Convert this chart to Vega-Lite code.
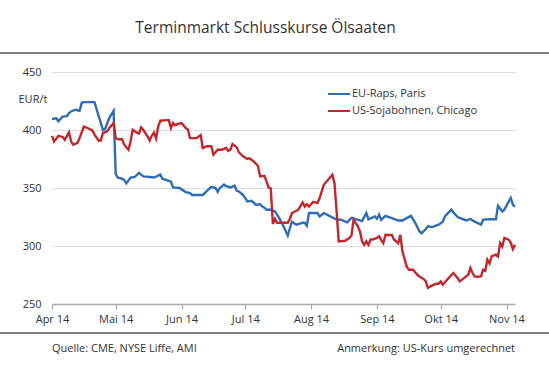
{
  "$schema": "https://vega.github.io/schema/vega-lite/v6.json",
  "width": 463,
  "height": 232,
  "autosize": "none",
  "padding": {"left": 52, "top": 72, "right": 34, "bottom": 72},
  "background": "white",
  "title": {"text": "Terminmarkt Schlusskurse Ölsaaten", "anchor": "middle", "dx": -18, "dy": 13, "offset": 29, "fontSize": 15.5, "font": "Open Sans", "fontWeight": "normal", "color": "#333333"},
  "config": {
    "view": {"stroke": null},
    "font": "Open Sans",
    "axis": {"labelFont": "Open Sans", "labelFontSize": 11, "labelColor": "#333333", "titleFont": "Open Sans"},
    "legend": {"labelFont": "Open Sans"}
  },
  "datasets": {
    "kurse": [
      {"Datum": "2014-04-01", "Serie": "EU-Raps, Paris", "Preis": 409.5},
      {"Datum": "2014-04-03", "Serie": "EU-Raps, Paris", "Preis": 410},
      {"Datum": "2014-04-04", "Serie": "EU-Raps, Paris", "Preis": 407.5},
      {"Datum": "2014-04-06", "Serie": "EU-Raps, Paris", "Preis": 411.5},
      {"Datum": "2014-04-08", "Serie": "EU-Raps, Paris", "Preis": 412},
      {"Datum": "2014-04-09", "Serie": "EU-Raps, Paris", "Preis": 414.5},
      {"Datum": "2014-04-10", "Serie": "EU-Raps, Paris", "Preis": 416},
      {"Datum": "2014-04-12", "Serie": "EU-Raps, Paris", "Preis": 417.5},
      {"Datum": "2014-04-13", "Serie": "EU-Raps, Paris", "Preis": 417},
      {"Datum": "2014-04-14", "Serie": "EU-Raps, Paris", "Preis": 416.5},
      {"Datum": "2014-04-15", "Serie": "EU-Raps, Paris", "Preis": 423.5},
      {"Datum": "2014-04-16", "Serie": "EU-Raps, Paris", "Preis": 424},
      {"Datum": "2014-04-21", "Serie": "EU-Raps, Paris", "Preis": 424},
      {"Datum": "2014-04-25", "Serie": "EU-Raps, Paris", "Preis": 400},
      {"Datum": "2014-04-26", "Serie": "EU-Raps, Paris", "Preis": 401},
      {"Datum": "2014-04-28", "Serie": "EU-Raps, Paris", "Preis": 410.5},
      {"Datum": "2014-04-30", "Serie": "EU-Raps, Paris", "Preis": 416.5},
      {"Datum": "2014-05-01", "Serie": "EU-Raps, Paris", "Preis": 362},
      {"Datum": "2014-05-02", "Serie": "EU-Raps, Paris", "Preis": 359},
      {"Datum": "2014-05-04", "Serie": "EU-Raps, Paris", "Preis": 358},
      {"Datum": "2014-05-05", "Serie": "EU-Raps, Paris", "Preis": 357},
      {"Datum": "2014-05-06", "Serie": "EU-Raps, Paris", "Preis": 354},
      {"Datum": "2014-05-08", "Serie": "EU-Raps, Paris", "Preis": 359},
      {"Datum": "2014-05-10", "Serie": "EU-Raps, Paris", "Preis": 359.5},
      {"Datum": "2014-05-12", "Serie": "EU-Raps, Paris", "Preis": 363},
      {"Datum": "2014-05-14", "Serie": "EU-Raps, Paris", "Preis": 360},
      {"Datum": "2014-05-17", "Serie": "EU-Raps, Paris", "Preis": 359.5},
      {"Datum": "2014-05-19", "Serie": "EU-Raps, Paris", "Preis": 359},
      {"Datum": "2014-05-22", "Serie": "EU-Raps, Paris", "Preis": 361.5},
      {"Datum": "2014-05-23", "Serie": "EU-Raps, Paris", "Preis": 358},
      {"Datum": "2014-05-27", "Serie": "EU-Raps, Paris", "Preis": 355.5},
      {"Datum": "2014-05-28", "Serie": "EU-Raps, Paris", "Preis": 350.5},
      {"Datum": "2014-05-31", "Serie": "EU-Raps, Paris", "Preis": 350},
      {"Datum": "2014-06-03", "Serie": "EU-Raps, Paris", "Preis": 346.5},
      {"Datum": "2014-06-05", "Serie": "EU-Raps, Paris", "Preis": 345.6},
      {"Datum": "2014-06-06", "Serie": "EU-Raps, Paris", "Preis": 344},
      {"Datum": "2014-06-11", "Serie": "EU-Raps, Paris", "Preis": 344},
      {"Datum": "2014-06-13", "Serie": "EU-Raps, Paris", "Preis": 347.6},
      {"Datum": "2014-06-15", "Serie": "EU-Raps, Paris", "Preis": 351},
      {"Datum": "2014-06-17", "Serie": "EU-Raps, Paris", "Preis": 350},
      {"Datum": "2014-06-18", "Serie": "EU-Raps, Paris", "Preis": 346.8},
      {"Datum": "2014-06-19", "Serie": "EU-Raps, Paris", "Preis": 350},
      {"Datum": "2014-06-21", "Serie": "EU-Raps, Paris", "Preis": 353},
      {"Datum": "2014-06-22", "Serie": "EU-Raps, Paris", "Preis": 351.5},
      {"Datum": "2014-06-24", "Serie": "EU-Raps, Paris", "Preis": 350.5},
      {"Datum": "2014-06-26", "Serie": "EU-Raps, Paris", "Preis": 352},
      {"Datum": "2014-06-27", "Serie": "EU-Raps, Paris", "Preis": 347.6},
      {"Datum": "2014-06-28", "Serie": "EU-Raps, Paris", "Preis": 347},
      {"Datum": "2014-06-30", "Serie": "EU-Raps, Paris", "Preis": 344},
      {"Datum": "2014-07-02", "Serie": "EU-Raps, Paris", "Preis": 338.5},
      {"Datum": "2014-07-04", "Serie": "EU-Raps, Paris", "Preis": 339},
      {"Datum": "2014-07-06", "Serie": "EU-Raps, Paris", "Preis": 335.6},
      {"Datum": "2014-07-08", "Serie": "EU-Raps, Paris", "Preis": 336},
      {"Datum": "2014-07-09", "Serie": "EU-Raps, Paris", "Preis": 334},
      {"Datum": "2014-07-10", "Serie": "EU-Raps, Paris", "Preis": 333},
      {"Datum": "2014-07-11", "Serie": "EU-Raps, Paris", "Preis": 331.3},
      {"Datum": "2014-07-13", "Serie": "EU-Raps, Paris", "Preis": 331.3},
      {"Datum": "2014-07-15", "Serie": "EU-Raps, Paris", "Preis": 329.8},
      {"Datum": "2014-07-17", "Serie": "EU-Raps, Paris", "Preis": 324},
      {"Datum": "2014-07-19", "Serie": "EU-Raps, Paris", "Preis": 317},
      {"Datum": "2014-07-21", "Serie": "EU-Raps, Paris", "Preis": 309},
      {"Datum": "2014-07-22", "Serie": "EU-Raps, Paris", "Preis": 315.5},
      {"Datum": "2014-07-23", "Serie": "EU-Raps, Paris", "Preis": 321},
      {"Datum": "2014-07-25", "Serie": "EU-Raps, Paris", "Preis": 318.4},
      {"Datum": "2014-07-28", "Serie": "EU-Raps, Paris", "Preis": 320},
      {"Datum": "2014-07-29", "Serie": "EU-Raps, Paris", "Preis": 320},
      {"Datum": "2014-07-30", "Serie": "EU-Raps, Paris", "Preis": 317.5},
      {"Datum": "2014-07-31", "Serie": "EU-Raps, Paris", "Preis": 328.4},
      {"Datum": "2014-08-02", "Serie": "EU-Raps, Paris", "Preis": 328.4},
      {"Datum": "2014-08-04", "Serie": "EU-Raps, Paris", "Preis": 328.4},
      {"Datum": "2014-08-05", "Serie": "EU-Raps, Paris", "Preis": 325.5},
      {"Datum": "2014-08-07", "Serie": "EU-Raps, Paris", "Preis": 328.4},
      {"Datum": "2014-08-10", "Serie": "EU-Raps, Paris", "Preis": 325.5},
      {"Datum": "2014-08-13", "Serie": "EU-Raps, Paris", "Preis": 322.7},
      {"Datum": "2014-08-15", "Serie": "EU-Raps, Paris", "Preis": 322.7},
      {"Datum": "2014-08-18", "Serie": "EU-Raps, Paris", "Preis": 320.4},
      {"Datum": "2014-08-20", "Serie": "EU-Raps, Paris", "Preis": 324.2},
      {"Datum": "2014-08-25", "Serie": "EU-Raps, Paris", "Preis": 321.4},
      {"Datum": "2014-08-27", "Serie": "EU-Raps, Paris", "Preis": 328.4},
      {"Datum": "2014-08-28", "Serie": "EU-Raps, Paris", "Preis": 323},
      {"Datum": "2014-08-31", "Serie": "EU-Raps, Paris", "Preis": 325.5},
      {"Datum": "2014-09-01", "Serie": "EU-Raps, Paris", "Preis": 323.5},
      {"Datum": "2014-09-02", "Serie": "EU-Raps, Paris", "Preis": 327},
      {"Datum": "2014-09-03", "Serie": "EU-Raps, Paris", "Preis": 322.5},
      {"Datum": "2014-09-05", "Serie": "EU-Raps, Paris", "Preis": 326},
      {"Datum": "2014-09-08", "Serie": "EU-Raps, Paris", "Preis": 324},
      {"Datum": "2014-09-11", "Serie": "EU-Raps, Paris", "Preis": 322},
      {"Datum": "2014-09-13", "Serie": "EU-Raps, Paris", "Preis": 322},
      {"Datum": "2014-09-15", "Serie": "EU-Raps, Paris", "Preis": 324},
      {"Datum": "2014-09-17", "Serie": "EU-Raps, Paris", "Preis": 326},
      {"Datum": "2014-09-19", "Serie": "EU-Raps, Paris", "Preis": 320},
      {"Datum": "2014-09-21", "Serie": "EU-Raps, Paris", "Preis": 312.6},
      {"Datum": "2014-09-22", "Serie": "EU-Raps, Paris", "Preis": 311},
      {"Datum": "2014-09-24", "Serie": "EU-Raps, Paris", "Preis": 314.6},
      {"Datum": "2014-09-25", "Serie": "EU-Raps, Paris", "Preis": 317},
      {"Datum": "2014-09-27", "Serie": "EU-Raps, Paris", "Preis": 316.3},
      {"Datum": "2014-09-30", "Serie": "EU-Raps, Paris", "Preis": 318.4},
      {"Datum": "2014-10-02", "Serie": "EU-Raps, Paris", "Preis": 321},
      {"Datum": "2014-10-03", "Serie": "EU-Raps, Paris", "Preis": 325.5},
      {"Datum": "2014-10-06", "Serie": "EU-Raps, Paris", "Preis": 331.3},
      {"Datum": "2014-10-07", "Serie": "EU-Raps, Paris", "Preis": 329},
      {"Datum": "2014-10-09", "Serie": "EU-Raps, Paris", "Preis": 325},
      {"Datum": "2014-10-13", "Serie": "EU-Raps, Paris", "Preis": 322},
      {"Datum": "2014-10-15", "Serie": "EU-Raps, Paris", "Preis": 323.3},
      {"Datum": "2014-10-17", "Serie": "EU-Raps, Paris", "Preis": 321},
      {"Datum": "2014-10-20", "Serie": "EU-Raps, Paris", "Preis": 318.4},
      {"Datum": "2014-10-21", "Serie": "EU-Raps, Paris", "Preis": 322.7},
      {"Datum": "2014-10-24", "Serie": "EU-Raps, Paris", "Preis": 323},
      {"Datum": "2014-10-27", "Serie": "EU-Raps, Paris", "Preis": 323},
      {"Datum": "2014-10-28", "Serie": "EU-Raps, Paris", "Preis": 334.7},
      {"Datum": "2014-10-30", "Serie": "EU-Raps, Paris", "Preis": 329.8},
      {"Datum": "2014-10-31", "Serie": "EU-Raps, Paris", "Preis": 331.3},
      {"Datum": "2014-11-03", "Serie": "EU-Raps, Paris", "Preis": 341.4},
      {"Datum": "2014-11-04", "Serie": "EU-Raps, Paris", "Preis": 335.6},
      {"Datum": "2014-11-05", "Serie": "EU-Raps, Paris", "Preis": 334},

      {"Datum": "2014-04-01", "Serie": "US-Sojabohnen, Chicago", "Preis": 395},
      {"Datum": "2014-04-02", "Serie": "US-Sojabohnen, Chicago", "Preis": 390},
      {"Datum": "2014-04-04", "Serie": "US-Sojabohnen, Chicago", "Preis": 395},
      {"Datum": "2014-04-06", "Serie": "US-Sojabohnen, Chicago", "Preis": 394},
      {"Datum": "2014-04-07", "Serie": "US-Sojabohnen, Chicago", "Preis": 391.6},
      {"Datum": "2014-04-09", "Serie": "US-Sojabohnen, Chicago", "Preis": 398},
      {"Datum": "2014-04-10", "Serie": "US-Sojabohnen, Chicago", "Preis": 390},
      {"Datum": "2014-04-11", "Serie": "US-Sojabohnen, Chicago", "Preis": 387.3},
      {"Datum": "2014-04-13", "Serie": "US-Sojabohnen, Chicago", "Preis": 389},
      {"Datum": "2014-04-14", "Serie": "US-Sojabohnen, Chicago", "Preis": 393},
      {"Datum": "2014-04-16", "Serie": "US-Sojabohnen, Chicago", "Preis": 403},
      {"Datum": "2014-04-18", "Serie": "US-Sojabohnen, Chicago", "Preis": 401.5},
      {"Datum": "2014-04-20", "Serie": "US-Sojabohnen, Chicago", "Preis": 399.7},
      {"Datum": "2014-04-21", "Serie": "US-Sojabohnen, Chicago", "Preis": 396},
      {"Datum": "2014-04-23", "Serie": "US-Sojabohnen, Chicago", "Preis": 390.7},
      {"Datum": "2014-04-24", "Serie": "US-Sojabohnen, Chicago", "Preis": 391},
      {"Datum": "2014-04-25", "Serie": "US-Sojabohnen, Chicago", "Preis": 397.4},
      {"Datum": "2014-04-27", "Serie": "US-Sojabohnen, Chicago", "Preis": 398.8},
      {"Datum": "2014-04-28", "Serie": "US-Sojabohnen, Chicago", "Preis": 401.7},
      {"Datum": "2014-04-30", "Serie": "US-Sojabohnen, Chicago", "Preis": 406},
      {"Datum": "2014-05-01", "Serie": "US-Sojabohnen, Chicago", "Preis": 393},
      {"Datum": "2014-05-02", "Serie": "US-Sojabohnen, Chicago", "Preis": 392},
      {"Datum": "2014-05-04", "Serie": "US-Sojabohnen, Chicago", "Preis": 392},
      {"Datum": "2014-05-05", "Serie": "US-Sojabohnen, Chicago", "Preis": 387.3},
      {"Datum": "2014-05-07", "Serie": "US-Sojabohnen, Chicago", "Preis": 383},
      {"Datum": "2014-05-08", "Serie": "US-Sojabohnen, Chicago", "Preis": 390},
      {"Datum": "2014-05-09", "Serie": "US-Sojabohnen, Chicago", "Preis": 400.2},
      {"Datum": "2014-05-11", "Serie": "US-Sojabohnen, Chicago", "Preis": 397.7},
      {"Datum": "2014-05-12", "Serie": "US-Sojabohnen, Chicago", "Preis": 397},
      {"Datum": "2014-05-13", "Serie": "US-Sojabohnen, Chicago", "Preis": 402.3},
      {"Datum": "2014-05-14", "Serie": "US-Sojabohnen, Chicago", "Preis": 400},
      {"Datum": "2014-05-16", "Serie": "US-Sojabohnen, Chicago", "Preis": 394.5},
      {"Datum": "2014-05-17", "Serie": "US-Sojabohnen, Chicago", "Preis": 391},
      {"Datum": "2014-05-18", "Serie": "US-Sojabohnen, Chicago", "Preis": 395},
      {"Datum": "2014-05-19", "Serie": "US-Sojabohnen, Chicago", "Preis": 397.7},
      {"Datum": "2014-05-20", "Serie": "US-Sojabohnen, Chicago", "Preis": 392.6},
      {"Datum": "2014-05-21", "Serie": "US-Sojabohnen, Chicago", "Preis": 403},
      {"Datum": "2014-05-22", "Serie": "US-Sojabohnen, Chicago", "Preis": 408},
      {"Datum": "2014-05-25", "Serie": "US-Sojabohnen, Chicago", "Preis": 408.5},
      {"Datum": "2014-05-26", "Serie": "US-Sojabohnen, Chicago", "Preis": 408.5},
      {"Datum": "2014-05-27", "Serie": "US-Sojabohnen, Chicago", "Preis": 401.7},
      {"Datum": "2014-05-28", "Serie": "US-Sojabohnen, Chicago", "Preis": 406},
      {"Datum": "2014-05-29", "Serie": "US-Sojabohnen, Chicago", "Preis": 404},
      {"Datum": "2014-05-30", "Serie": "US-Sojabohnen, Chicago", "Preis": 405},
      {"Datum": "2014-06-01", "Serie": "US-Sojabohnen, Chicago", "Preis": 406},
      {"Datum": "2014-06-03", "Serie": "US-Sojabohnen, Chicago", "Preis": 401.7},
      {"Datum": "2014-06-04", "Serie": "US-Sojabohnen, Chicago", "Preis": 400.5},
      {"Datum": "2014-06-05", "Serie": "US-Sojabohnen, Chicago", "Preis": 393},
      {"Datum": "2014-06-08", "Serie": "US-Sojabohnen, Chicago", "Preis": 393},
      {"Datum": "2014-06-10", "Serie": "US-Sojabohnen, Chicago", "Preis": 395.6},
      {"Datum": "2014-06-11", "Serie": "US-Sojabohnen, Chicago", "Preis": 384.5},
      {"Datum": "2014-06-13", "Serie": "US-Sojabohnen, Chicago", "Preis": 386},
      {"Datum": "2014-06-15", "Serie": "US-Sojabohnen, Chicago", "Preis": 386},
      {"Datum": "2014-06-16", "Serie": "US-Sojabohnen, Chicago", "Preis": 378.7},
      {"Datum": "2014-06-18", "Serie": "US-Sojabohnen, Chicago", "Preis": 383},
      {"Datum": "2014-06-20", "Serie": "US-Sojabohnen, Chicago", "Preis": 383},
      {"Datum": "2014-06-22", "Serie": "US-Sojabohnen, Chicago", "Preis": 384.5},
      {"Datum": "2014-06-23", "Serie": "US-Sojabohnen, Chicago", "Preis": 382},
      {"Datum": "2014-06-24", "Serie": "US-Sojabohnen, Chicago", "Preis": 383},
      {"Datum": "2014-06-25", "Serie": "US-Sojabohnen, Chicago", "Preis": 388},
      {"Datum": "2014-06-27", "Serie": "US-Sojabohnen, Chicago", "Preis": 385},
      {"Datum": "2014-06-28", "Serie": "US-Sojabohnen, Chicago", "Preis": 380.7},
      {"Datum": "2014-06-30", "Serie": "US-Sojabohnen, Chicago", "Preis": 377.3},
      {"Datum": "2014-07-02", "Serie": "US-Sojabohnen, Chicago", "Preis": 375},
      {"Datum": "2014-07-03", "Serie": "US-Sojabohnen, Chicago", "Preis": 375.5},
      {"Datum": "2014-07-05", "Serie": "US-Sojabohnen, Chicago", "Preis": 373},
      {"Datum": "2014-07-07", "Serie": "US-Sojabohnen, Chicago", "Preis": 369},
      {"Datum": "2014-07-08", "Serie": "US-Sojabohnen, Chicago", "Preis": 360},
      {"Datum": "2014-07-10", "Serie": "US-Sojabohnen, Chicago", "Preis": 360.5},
      {"Datum": "2014-07-11", "Serie": "US-Sojabohnen, Chicago", "Preis": 355.7},
      {"Datum": "2014-07-12", "Serie": "US-Sojabohnen, Chicago", "Preis": 350.5},
      {"Datum": "2014-07-13", "Serie": "US-Sojabohnen, Chicago", "Preis": 349.5},
      {"Datum": "2014-07-14", "Serie": "US-Sojabohnen, Chicago", "Preis": 319},
      {"Datum": "2014-07-15", "Serie": "US-Sojabohnen, Chicago", "Preis": 323.3},
      {"Datum": "2014-07-16", "Serie": "US-Sojabohnen, Chicago", "Preis": 320},
      {"Datum": "2014-07-21", "Serie": "US-Sojabohnen, Chicago", "Preis": 320},
      {"Datum": "2014-07-22", "Serie": "US-Sojabohnen, Chicago", "Preis": 323.3},
      {"Datum": "2014-07-23", "Serie": "US-Sojabohnen, Chicago", "Preis": 328.4},
      {"Datum": "2014-07-26", "Serie": "US-Sojabohnen, Chicago", "Preis": 331.3},
      {"Datum": "2014-07-28", "Serie": "US-Sojabohnen, Chicago", "Preis": 337.6},
      {"Datum": "2014-07-29", "Serie": "US-Sojabohnen, Chicago", "Preis": 334},
      {"Datum": "2014-07-30", "Serie": "US-Sojabohnen, Chicago", "Preis": 336},
      {"Datum": "2014-07-31", "Serie": "US-Sojabohnen, Chicago", "Preis": 334},
      {"Datum": "2014-08-02", "Serie": "US-Sojabohnen, Chicago", "Preis": 338},
      {"Datum": "2014-08-04", "Serie": "US-Sojabohnen, Chicago", "Preis": 337},
      {"Datum": "2014-08-05", "Serie": "US-Sojabohnen, Chicago", "Preis": 341.3},
      {"Datum": "2014-08-07", "Serie": "US-Sojabohnen, Chicago", "Preis": 352.8},
      {"Datum": "2014-08-09", "Serie": "US-Sojabohnen, Chicago", "Preis": 357.1},
      {"Datum": "2014-08-11", "Serie": "US-Sojabohnen, Chicago", "Preis": 361.4},
      {"Datum": "2014-08-12", "Serie": "US-Sojabohnen, Chicago", "Preis": 354.3},
      {"Datum": "2014-08-13", "Serie": "US-Sojabohnen, Chicago", "Preis": 330},
      {"Datum": "2014-08-14", "Serie": "US-Sojabohnen, Chicago", "Preis": 304},
      {"Datum": "2014-08-17", "Serie": "US-Sojabohnen, Chicago", "Preis": 304.5},
      {"Datum": "2014-08-19", "Serie": "US-Sojabohnen, Chicago", "Preis": 306.8},
      {"Datum": "2014-08-20", "Serie": "US-Sojabohnen, Chicago", "Preis": 309},
      {"Datum": "2014-08-21", "Serie": "US-Sojabohnen, Chicago", "Preis": 322.7},
      {"Datum": "2014-08-23", "Serie": "US-Sojabohnen, Chicago", "Preis": 317},
      {"Datum": "2014-08-24", "Serie": "US-Sojabohnen, Chicago", "Preis": 312.6},
      {"Datum": "2014-08-25", "Serie": "US-Sojabohnen, Chicago", "Preis": 304},
      {"Datum": "2014-08-26", "Serie": "US-Sojabohnen, Chicago", "Preis": 301.1},
      {"Datum": "2014-08-27", "Serie": "US-Sojabohnen, Chicago", "Preis": 304},
      {"Datum": "2014-08-28", "Serie": "US-Sojabohnen, Chicago", "Preis": 301},
      {"Datum": "2014-08-29", "Serie": "US-Sojabohnen, Chicago", "Preis": 305.6},
      {"Datum": "2014-08-30", "Serie": "US-Sojabohnen, Chicago", "Preis": 305.6},
      {"Datum": "2014-09-01", "Serie": "US-Sojabohnen, Chicago", "Preis": 307},
      {"Datum": "2014-09-02", "Serie": "US-Sojabohnen, Chicago", "Preis": 308.3},
      {"Datum": "2014-09-03", "Serie": "US-Sojabohnen, Chicago", "Preis": 305},
      {"Datum": "2014-09-04", "Serie": "US-Sojabohnen, Chicago", "Preis": 302.4},
      {"Datum": "2014-09-05", "Serie": "US-Sojabohnen, Chicago", "Preis": 309.7},
      {"Datum": "2014-09-07", "Serie": "US-Sojabohnen, Chicago", "Preis": 309.5},
      {"Datum": "2014-09-08", "Serie": "US-Sojabohnen, Chicago", "Preis": 309.5},
      {"Datum": "2014-09-09", "Serie": "US-Sojabohnen, Chicago", "Preis": 305.6},
      {"Datum": "2014-09-11", "Serie": "US-Sojabohnen, Chicago", "Preis": 302.4},
      {"Datum": "2014-09-12", "Serie": "US-Sojabohnen, Chicago", "Preis": 309.7},
      {"Datum": "2014-09-13", "Serie": "US-Sojabohnen, Chicago", "Preis": 295.3},
      {"Datum": "2014-09-15", "Serie": "US-Sojabohnen, Chicago", "Preis": 282.4},
      {"Datum": "2014-09-16", "Serie": "US-Sojabohnen, Chicago", "Preis": 279.5},
      {"Datum": "2014-09-18", "Serie": "US-Sojabohnen, Chicago", "Preis": 279.5},
      {"Datum": "2014-09-20", "Serie": "US-Sojabohnen, Chicago", "Preis": 275.2},
      {"Datum": "2014-09-21", "Serie": "US-Sojabohnen, Chicago", "Preis": 273.8},
      {"Datum": "2014-09-23", "Serie": "US-Sojabohnen, Chicago", "Preis": 271.5},
      {"Datum": "2014-09-24", "Serie": "US-Sojabohnen, Chicago", "Preis": 269.5},
      {"Datum": "2014-09-25", "Serie": "US-Sojabohnen, Chicago", "Preis": 263.8},
      {"Datum": "2014-09-26", "Serie": "US-Sojabohnen, Chicago", "Preis": 265},
      {"Datum": "2014-09-27", "Serie": "US-Sojabohnen, Chicago", "Preis": 266},
      {"Datum": "2014-09-29", "Serie": "US-Sojabohnen, Chicago", "Preis": 267.4},
      {"Datum": "2014-09-30", "Serie": "US-Sojabohnen, Chicago", "Preis": 267.4},
      {"Datum": "2014-10-01", "Serie": "US-Sojabohnen, Chicago", "Preis": 269.5},
      {"Datum": "2014-10-02", "Serie": "US-Sojabohnen, Chicago", "Preis": 266.6},
      {"Datum": "2014-10-04", "Serie": "US-Sojabohnen, Chicago", "Preis": 270.9},
      {"Datum": "2014-10-07", "Serie": "US-Sojabohnen, Chicago", "Preis": 276.7},
      {"Datum": "2014-10-09", "Serie": "US-Sojabohnen, Chicago", "Preis": 272.3},
      {"Datum": "2014-10-10", "Serie": "US-Sojabohnen, Chicago", "Preis": 269.5},
      {"Datum": "2014-10-12", "Serie": "US-Sojabohnen, Chicago", "Preis": 272.3},
      {"Datum": "2014-10-14", "Serie": "US-Sojabohnen, Chicago", "Preis": 275.2},
      {"Datum": "2014-10-15", "Serie": "US-Sojabohnen, Chicago", "Preis": 281},
      {"Datum": "2014-10-16", "Serie": "US-Sojabohnen, Chicago", "Preis": 276.7},
      {"Datum": "2014-10-17", "Serie": "US-Sojabohnen, Chicago", "Preis": 273.8},
      {"Datum": "2014-10-18", "Serie": "US-Sojabohnen, Chicago", "Preis": 273.5},
      {"Datum": "2014-10-20", "Serie": "US-Sojabohnen, Chicago", "Preis": 273.8},
      {"Datum": "2014-10-21", "Serie": "US-Sojabohnen, Chicago", "Preis": 279.5},
      {"Datum": "2014-10-22", "Serie": "US-Sojabohnen, Chicago", "Preis": 278.5},
      {"Datum": "2014-10-23", "Serie": "US-Sojabohnen, Chicago", "Preis": 288.2},
      {"Datum": "2014-10-24", "Serie": "US-Sojabohnen, Chicago", "Preis": 285},
      {"Datum": "2014-10-25", "Serie": "US-Sojabohnen, Chicago", "Preis": 291},
      {"Datum": "2014-10-27", "Serie": "US-Sojabohnen, Chicago", "Preis": 292.5},
      {"Datum": "2014-10-28", "Serie": "US-Sojabohnen, Chicago", "Preis": 291},
      {"Datum": "2014-10-29", "Serie": "US-Sojabohnen, Chicago", "Preis": 302.5},
      {"Datum": "2014-10-30", "Serie": "US-Sojabohnen, Chicago", "Preis": 299.6},
      {"Datum": "2014-10-31", "Serie": "US-Sojabohnen, Chicago", "Preis": 307},
      {"Datum": "2014-11-02", "Serie": "US-Sojabohnen, Chicago", "Preis": 305.5},
      {"Datum": "2014-11-03", "Serie": "US-Sojabohnen, Chicago", "Preis": 303},
      {"Datum": "2014-11-04", "Serie": "US-Sojabohnen, Chicago", "Preis": 297.4},
      {"Datum": "2014-11-05", "Serie": "US-Sojabohnen, Chicago", "Preis": 301}
    ],
    "deko": [{"Element": "Rahmen"}]
  },
  "layer": [
    {
      "data": {"name": "kurse"},
      "mark": {"type": "line", "strokeWidth": 2.4, "interpolate": "linear"},
      "encoding": {
        "x": {
          "field": "Datum", "type": "temporal",
          "scale": {"type": "utc", "domain": [{"year": 2014, "month": 4, "date": 1, "utc": true}, {"year": 2014, "month": 11, "date": 5, "utc": true}]},
          "axis": {
            "title": null,
            "values": [
              {"year": 2014, "month": 4, "date": 1, "utc": true},
              {"year": 2014, "month": 5, "date": 1, "utc": true},
              {"year": 2014, "month": 6, "date": 1, "utc": true},
              {"year": 2014, "month": 7, "date": 1, "utc": true},
              {"year": 2014, "month": 8, "date": 1, "utc": true},
              {"year": 2014, "month": 9, "date": 1, "utc": true},
              {"year": 2014, "month": 10, "date": 1, "utc": true},
              {"year": 2014, "month": 11, "date": 1, "utc": true}
            ],
            "labelExpr": "['Jan','Feb','Mär','Apr','Mai','Jun','Jul','Aug','Sep','Okt','Nov','Dez'][utcmonth(datum.value)] + ' ' + utcFormat(datum.value, '%y')",
            "grid": false,
            "domainColor": "#aaaaaa",
            "domainWidth": 1.5,
            "tickColor": "#aaaaaa",
            "tickSize": 5,
            "tickWidth": 1.2,
            "labelPadding": 4,
            "labelFlush": false
          }
        },
        "y": {
          "field": "Preis", "type": "quantitative",
          "scale": {"domain": [250, 450], "nice": false, "zero": false},
          "axis": {
            "title": "EUR/t",
            "titleAngle": 0,
            "titleAlign": "left",
            "titleBaseline": "middle",
            "titleX": -34,
            "titleY": 27,
            "titleFontSize": 11,
            "titleFontWeight": "normal",
            "titleColor": "#333333",
            "values": [250, 300, 350, 400, 450],
            "grid": true,
            "gridColor": "#dddddd",
            "gridWidth": 1.2,
            "domain": false,
            "ticks": false,
            "labelPadding": 11
          }
        },
        "color": {
          "field": "Serie", "type": "nominal",
          "scale": {"domain": ["EU-Raps, Paris", "US-Sojabohnen, Chicago"], "range": ["#2f6db5", "#c1272d"]},
          "legend": {
            "title": null,
            "orient": "none",
            "legendX": 275,
            "legendY": 10,
            "symbolType": "stroke",
            "symbolSize": 484,
            "symbolStrokeWidth": 2,
            "labelFontSize": 11,
            "labelColor": "#333333",
            "labelOffset": 1,
            "rowPadding": -2
          }
        }
      }
    },
    {
      "data": {"name": "deko"},
      "mark": {"type": "rule", "color": "#555555", "strokeWidth": 1.5},
      "encoding": {
        "x": {"datum": {"year": 2014, "month": 3, "date": 7, "utc": true}, "type": "temporal"},
        "x2": {"datum": {"year": 2014, "month": 11, "date": 22, "utc": true}},
        "y": {"datum": 466.4}
      }
    },
    {
      "data": {"name": "deko"},
      "mark": {"type": "rule", "color": "#555555", "strokeWidth": 1.5},
      "encoding": {
        "x": {"datum": {"year": 2014, "month": 3, "date": 7, "utc": true}, "type": "temporal"},
        "x2": {"datum": {"year": 2014, "month": 11, "date": 22, "utc": true}},
        "y": {"datum": 225}
      }
    },
    {
      "data": {"name": "deko"},
      "mark": {"type": "text", "align": "left", "baseline": "middle", "fontSize": 11, "color": "#333333", "font": "Open Sans"},
      "encoding": {
        "x": {"datum": {"year": 2014, "month": 4, "date": 1, "utc": true}, "type": "temporal"},
        "y": {"datum": 211.2},
        "text": {"value": "Quelle: CME, NYSE Liffe, AMI"}
      }
    },
    {
      "data": {"name": "deko"},
      "mark": {"type": "text", "align": "right", "baseline": "middle", "fontSize": 11, "color": "#333333", "font": "Open Sans"},
      "encoding": {
        "x": {"datum": {"year": 2014, "month": 11, "date": 5, "utc": true}, "type": "temporal"},
        "y": {"datum": 211.2},
        "text": {"value": "Anmerkung: US-Kurs umgerechnet"}
      }
    }
  ]
}
